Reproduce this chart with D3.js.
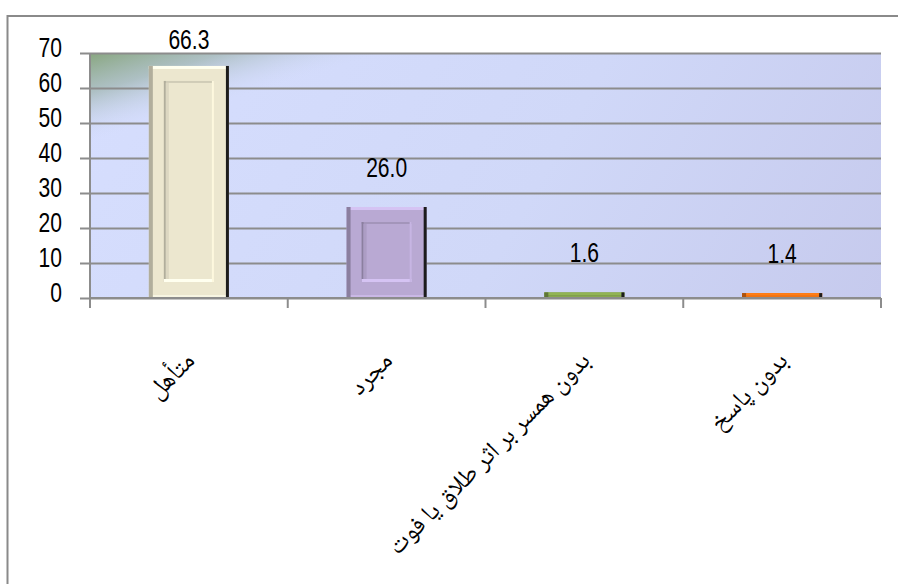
<!DOCTYPE html>
<html><head><meta charset="utf-8">
<script src="https://cdn.jsdelivr.net/npm/d3@7"></script>
<style>
html,body{margin:0;padding:0;background:#fff;}
svg{display:block;}
</style></head>
<body>
<svg id="chart" width="898" height="584"></svg>
<script>
const categories = ["متأهل", "مجرد", "بدون همسر بر اثر طلاق یا فوت", "بدون پاسخ"];
const values = [66.3, 26.0, 1.6, 1.4];
const barColors = ["#ece7cf", "#b9a9d3", "#7e9c49", "#e46d12"];
const yTicks = [0, 10, 20, 30, 40, 50, 60, 70];

const W = 898, H = 584;
const plot = {left: 90, right: 881, top: 53, bottom: 298};
const narrowFont = "'Liberation Sans',Arial,sans-serif";
const narrow = 0.78;
const svg = d3.select("#chart");
const defs = svg.append("defs");

// outer frame
svg.append("path").attr("d", `M7.5,${H} L7.5,16 L${W},16`)
  .attr("fill", "none").attr("stroke", "#8a8a8a").attr("stroke-width", 2);

const x = d3.scaleBand().domain(categories).range([plot.left, plot.right])
  .paddingInner(0.595).paddingOuter(0.2975);
const y = d3.scaleLinear().domain([0, 70]).range([plot.bottom, plot.top]);
const step = x.step();

// background gradients
const bg = defs.append("linearGradient").attr("id", "bg").attr("gradientUnits", "userSpaceOnUse")
  .attr("x1", plot.left).attr("y1", plot.top).attr("x2", plot.right).attr("y2", plot.bottom + 200);
bg.append("stop").attr("offset", 0).attr("stop-color", "#d6defe");
bg.append("stop").attr("offset", 0.5).attr("stop-color", "#d0d8f8");
bg.append("stop").attr("offset", 1).attr("stop-color", "#c3c6ea");
const gr = defs.append("linearGradient").attr("id", "green").attr("gradientUnits", "userSpaceOnUse")
  .attr("x1", plot.left).attr("y1", plot.top).attr("x2", plot.left + 0.287 * 85).attr("y2", plot.top + 0.958 * 85);
gr.append("stop").attr("offset", 0).attr("stop-color", "#88a67f").attr("stop-opacity", 1);
gr.append("stop").attr("offset", 0.45).attr("stop-color", "#a4b9b6").attr("stop-opacity", 0.8);
gr.append("stop").attr("offset", 1).attr("stop-color", "#d0d9f6").attr("stop-opacity", 0);

svg.append("rect").attr("x", plot.left).attr("y", plot.top)
  .attr("width", plot.right - plot.left).attr("height", plot.bottom - plot.top).attr("fill", "url(#bg)");
svg.append("rect").attr("x", plot.left).attr("y", plot.top)
  .attr("width", plot.right - plot.left).attr("height", plot.bottom - plot.top).attr("fill", "url(#green)");

// gridlines + y ticks
svg.append("g").attr("transform", `translate(${plot.left - 10},0)`)
  .call(d3.axisRight(y).tickValues(yTicks).tickSize(plot.right - plot.left + 10).tickFormat(""))
  .call(g => g.select(".domain").remove())
  .call(g => g.selectAll(".tick line").attr("stroke", "#8c8c8c").attr("stroke-width", 2));

// y axis vertical line
svg.append("line").attr("x1", plot.left).attr("x2", plot.left)
  .attr("y1", plot.top).attr("y2", plot.bottom + 10).attr("stroke", "#8c8c8c").attr("stroke-width", 2);

// y labels (horizontally condensed)
svg.append("g").selectAll("text").data(yTicks).join("text")
  .attr("transform", d => `translate(62,${y(d) + 4}) scale(${narrow},1)`)
  .attr("text-anchor", "end")
  .attr("font-family", narrowFont)
  .attr("font-size", 27).attr("fill", "#000").text(d => d);

// x tick marks at category boundaries
const bounds = d3.range(categories.length + 1).map(i => plot.left + i * step);
svg.append("g").selectAll("line").data(bounds).join("line")
  .attr("x1", d => d).attr("x2", d => d).attr("y1", plot.bottom).attr("y2", plot.bottom + 10)
  .attr("stroke", "#8c8c8c").attr("stroke-width", 2);

// bars with bevel
const bars = svg.append("g").selectAll("g").data(categories).join("g");
bars.each(function(c, i) {
  const g = d3.select(this);
  const v = values[i];
  const bx = x(c), bw = x.bandwidth(), by = y(v), bh = plot.bottom - y(v);
  const col = d3.color(barColors[i]);
  const dark = d3.color(barColors[i]).darker(0.8);
  const light = d3.color(barColors[i]).brighter(0.4);
  g.append("rect").attr("x", bx).attr("y", by).attr("width", bw).attr("height", bh).attr("fill", col);
  g.append("rect").attr("x", bx).attr("y", by).attr("width", bw).attr("height", Math.min(3, bh / 2)).attr("fill", light);
  g.append("rect").attr("x", bx).attr("y", plot.bottom - Math.min(3, bh / 3)).attr("width", bw).attr("height", Math.min(3, bh / 3)).attr("fill", light).attr("opacity", 0.6);
  g.append("rect").attr("x", bx).attr("y", by).attr("width", 4).attr("height", bh).attr("fill", dark);
  g.append("rect").attr("x", bx + bw - 3).attr("y", by).attr("width", 3).attr("height", bh).attr("fill", "#1c1c1c");
  if (bh > 45) {
    const ix = bx + 15, iw = bw - 30, iy = by + 15, ih = bh - 31;
    g.append("rect").attr("x", ix).attr("y", iy).attr("width", iw).attr("height", ih).attr("fill", col);
    g.append("rect").attr("x", ix).attr("y", iy).attr("width", iw).attr("height", 2).attr("fill", d3.color(barColors[i]).darker(0.35));
    g.append("rect").attr("x", ix).attr("y", iy).attr("width", 2).attr("height", ih).attr("fill", dark);
    g.append("rect").attr("x", ix + 2).attr("y", iy + 2).attr("width", 3).attr("height", ih - 2).attr("fill", d3.color(barColors[i]).darker(0.2));
    g.append("rect").attr("x", ix).attr("y", iy + ih - 3).attr("width", iw).attr("height", 3).attr("fill", d3.color(barColors[i]).brighter(0.4));
    g.append("rect").attr("x", ix + iw - 2).attr("y", iy).attr("width", 2).attr("height", ih).attr("fill", d3.color(barColors[i]).brighter(0.2));
  }
});

// x axis line
svg.append("line").attr("x1", plot.left).attr("x2", plot.right)
  .attr("y1", plot.bottom).attr("y2", plot.bottom).attr("stroke", "#8c8c8c").attr("stroke-width", 2);

// value labels
svg.append("g").selectAll("text").data(categories).join("text")
  .attr("transform", (c, i) => `translate(${x(c) + x.bandwidth() / 2},${Math.max(y(values[i]) - 30, 49)}) scale(${narrow},1)`)
  .attr("text-anchor", "middle")
  .attr("font-family", narrowFont)
  .attr("font-size", 27).attr("fill", "#000")
  .text((c, i) => d3.format(".1f")(values[i]));

// category labels, rotated
svg.append("g").selectAll("text").data(categories).join("text")
  .attr("transform", c => `translate(${x(c) + x.bandwidth() / 2 + 7},${362}) rotate(-45)`)
  .attr("text-anchor", "end")
  .attr("font-family", "'Noto Naskh Arabic','Noto Sans Arabic','DejaVu Sans',sans-serif")
  .attr("font-size", 25).attr("fill", "#000")
  .text(c => c);
</script>
</body></html>
